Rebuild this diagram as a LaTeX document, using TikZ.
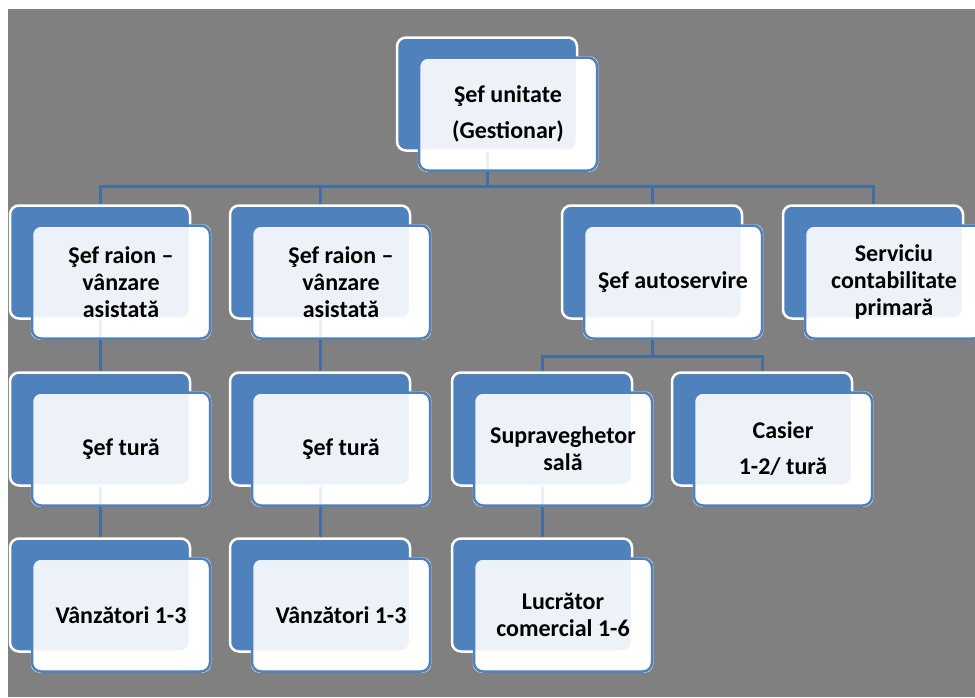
\documentclass[tikz,border=0pt]{standalone}
\usepackage{fontspec}
\setmainfont{Carlito}
\usetikzlibrary{positioning,calc}
\definecolor{boxblue}{RGB}{79,129,189}
\definecolor{linkblue}{RGB}{66,110,164}
\definecolor{panelgrey}{RGB}{128,128,128}
\pgfdeclarelayer{panel}
\pgfdeclarelayer{under}
\pgfsetlayers{panel,under,main}

\begin{document}
\begin{tikzpicture}[x=1pt,y=-1pt,
	backbox/.style={draw=white,fill=boxblue,line width=2.5pt,rounded corners=9pt,
		minimum width=180pt,minimum height=113pt,inner sep=0pt},
	frontbox/.style={draw=boxblue,fill=white,fill opacity=0.9,text opacity=1,line width=2.5pt,
		rounded corners=9pt,minimum width=178pt,minimum height=113pt,inner sep=0pt,
		align=center,font=\fontsize{24}{27}\selectfont\bfseries},
	link/.style={draw=linkblue,line width=3pt}
	]
	
	% the page and the grey panel
	\begin{pgfonlayer}{panel}
	\fill[white] (0,0) rectangle (975,697);
	\fill[panelgrey] (8,9) rectangle (975,697);
	\end{pgfonlayer}
	\useasboundingbox (0,0) rectangle (975,697);
	
	% the back boxes
	\node[backbox] (unitateB) at (487,94) {};
	\node[backbox] (raion1B) at (100,262) {};
	\node[backbox] (raion2B) at (320,262) {};
	\node[backbox] (autoB) at (652,262) {};
	\node[backbox] (contabB) at (873,262) {};
	\node[backbox] (tura1B) at (100,429) {};
	\node[backbox] (tura2B) at (320,429) {};
	\node[backbox] (supravB) at (542,429) {};
	\node[backbox] (casierB) at (762,429) {};
	\node[backbox] (vanz1B) at (100,595) {};
	\node[backbox] (vanz2B) at (320,595) {};
	\node[backbox] (lucratorB) at (542,595) {};
	
	% the links
	\coordinate (bus) at (0,186);
	\coordinate (subbus) at (0,356);
	\draw[link] (unitateB.south) -- (unitateB.south |- bus);
	\draw[link] (raion1B.north) -- (raion1B.north |- bus) -- (contabB.north |- bus) -- (contabB.north);
	\draw[link] (raion2B.north) -- (raion2B.north |- bus);
	\draw[link] (autoB.north) -- (autoB.north |- bus);
	\draw[link] (raion1B.south) -- (tura1B.north);
	\draw[link] (tura1B.south) -- (vanz1B.north);
	\draw[link] (raion2B.south) -- (tura2B.north);
	\draw[link] (tura2B.south) -- (vanz2B.north);
	\draw[link] (autoB.south) -- (autoB.south |- subbus);
	\draw[link] (supravB.north) -- (supravB.north |- subbus) -- (casierB.north |- subbus) -- (casierB.north);
	\draw[link] (supravB.south) -- (lucratorB.north);
	
	% the front boxes
	\node[frontbox] (unitate) at ($(unitateB)+(21,20)$) {Şef unitate\\[9pt](Gestionar)};
	\node[frontbox] (raion1) at ($(raion1B)+(21,20)$) {Şef raion –\\vânzare\\asistată};
	\node[frontbox] (raion2) at ($(raion2B)+(21,20)$) {Şef raion –\\vânzare\\asistată};
	\node[frontbox] (auto) at ($(autoB)+(21,20)$) {Şef autoservire};
	\node[frontbox] (contab) at ($(contabB)+(21,20)$) {Serviciu\\contabilitate\\primară};
	\node[frontbox] (tura1) at ($(tura1B)+(21,20)$) {Şef tură};
	\node[frontbox] (tura2) at ($(tura2B)+(21,20)$) {Şef tură};
	\node[frontbox] (suprav) at ($(supravB)+(21,20)$) {Supraveghetor\\sală};
	\node[frontbox] (casier) at ($(casierB)+(21,20)$) {Casier\\[9pt]1-2/ tură};
	\node[frontbox] (vanz1) at ($(vanz1B)+(21,20)$) {Vânzători 1-3};
	\node[frontbox] (vanz2) at ($(vanz2B)+(21,20)$) {Vânzători 1-3};
	\node[frontbox] (lucrator) at ($(lucratorB)+(21,20)$) {Lucrător\\comercial 1-6};
	
	% white under the front boxes, so that only the back boxes show through
	\begin{pgfonlayer}{under}
	\foreach \n in {unitate,raion1,raion2,auto,contab,tura1,tura2,suprav,casier,vanz1,vanz2,lucrator}
		\fill[white,rounded corners=9pt] (\n.south west) rectangle (\n.north east);
	\end{pgfonlayer}
\end{tikzpicture}
\end{document}
